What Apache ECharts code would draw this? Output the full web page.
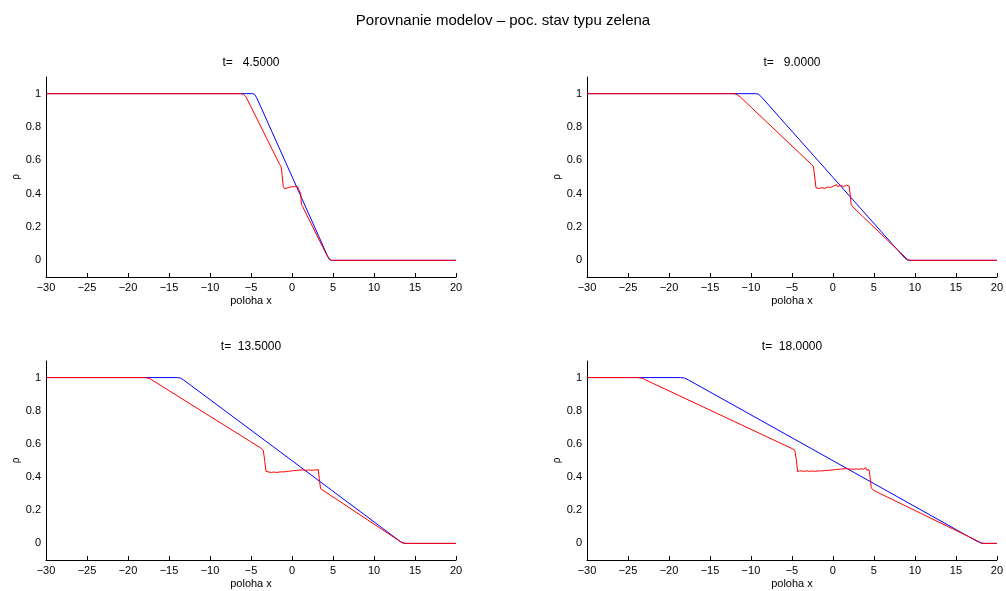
<!DOCTYPE html>
<html>
<head>
<meta charset="utf-8">
<script src="https://cdn.jsdelivr.net/npm/echarts@6/dist/echarts.min.js"></script>
<style>
  html, body { margin: 0; padding: 0; background: #fff; }
  #chart { width: 1006px; height: 591px; }
</style>
</head>
<body>
<div id="chart"></div>
<script>
// ---- text ----
const mainTitle = 'Porovnanie modelov – poc. stav typu zelena';
const panelTitles = ['t=   4.5000', 't=   9.0000', 't=  13.5000', 't=  18.0000'];
const xAxisName = 'poloha x';
const yAxisName = 'ρ';
const xTicks = [-30, -25, -20, -15, -10, -5, 0, 5, 10, 15, 20];
const yTicks = [0, 0.2, 0.4, 0.6, 0.8, 1];

// ---- density profiles, [x, rho] ----
// t = 4.5
const blue45 = [[-30, 1], [-4.8, 1], [-4.55, 0.995], [-4.3, 0.975], [0, 0.503], [4.3, 0.03], [4.55, 0.008], [4.8, 0], [20, 0]];
const red45 = [[-30, 1], [-6.2, 1], [-5.9, 0.995], [-5.6, 0.98], [-1.5, 0.575], [-1.33, 0.562], [-1.2, 0.51], [-1.07, 0.444],
  [-1.0, 0.437], [-0.92, 0.43], [-0.84, 0.438], [-0.76, 0.432], [-0.68, 0.44], [-0.6, 0.434], [-0.52, 0.441],
  [-0.44, 0.436], [-0.36, 0.446], [-0.28, 0.439], [-0.2, 0.447], [-0.12, 0.441], [-0.04, 0.448], [0.04, 0.442],
  [0.12, 0.449], [0.2, 0.443], [0.28, 0.448], [0.36, 0.442], [0.44, 0.449], [0.52, 0.443], [0.6, 0.448],
  [0.68, 0.442], [0.76, 0.449], [0.84, 0.443], [0.92, 0.448], [0.98, 0.445],
  [1.06, 0.4], [1.15, 0.335], [1.3, 0.322], [4.3, 0.025], [4.55, 0.005], [4.8, 0], [20, 0]];

// t = 9
const blue90 = [[-30, 1], [-9.4, 1], [-9.1, 0.997], [-8.8, 0.985], [0, 0.498], [8.8, 0.012], [9.1, 0.002], [9.4, 0], [20, 0]];
const red90 = [[-30, 1], [-12.1, 1], [-11.7, 0.995], [-11.3, 0.98], [-2.6, 0.575], [-2.38, 0.562], [-2.22, 0.5], [-2.07, 0.436],
  [-1.95, 0.429], [-1.83, 0.438], [-1.71, 0.431], [-1.59, 0.437], [-1.47, 0.429], [-1.35, 0.436], [-1.23, 0.431],
  [-1.11, 0.438], [-0.99, 0.432], [-0.87, 0.439], [-0.75, 0.433], [-0.63, 0.44], [-0.51, 0.435], [-0.39, 0.442],
  [-0.27, 0.437], [-0.15, 0.444], [-0.03, 0.439], [0.09, 0.446], [0.21, 0.441], [0.33, 0.448], [0.45, 0.455],
  [0.57, 0.442], [0.69, 0.449], [0.81, 0.442], [0.93, 0.45], [1.05, 0.443], [1.17, 0.449], [1.29, 0.442],
  [1.41, 0.45], [1.53, 0.444], [1.65, 0.451], [1.77, 0.443], [1.89, 0.45], [1.97, 0.446],
  [2.1, 0.4], [2.22, 0.335], [2.4, 0.322], [8.8, 0.02], [9.1, 0.005], [9.4, 0], [20, 0]];

// t = 13.5
const blue135 = [[-30, 1], [-14.0, 1], [-13.6, 0.997], [-13.2, 0.985], [0, 0.499], [13.2, 0.012], [13.6, 0.002], [14.0, 0], [20, 0]];
const red135 = [[-30, 1], [-17.9, 1], [-17.4, 0.995], [-16.9, 0.98], [-3.8, 0.575], [-3.5, 0.561], [-3.33, 0.5], [-3.18, 0.435],
  [-3.1, 0.428], [-2.95, 0.438], [-2.8, 0.43], [-2.65, 0.436], [-2.5, 0.428], [-2.35, 0.437], [-2.2, 0.431],
  [-2.05, 0.435], [-1.9, 0.427], [-1.75, 0.436], [-1.6, 0.43], [-1.45, 0.438], [-1.3, 0.432], [-1.15, 0.437],
  [-1.0, 0.431], [-0.85, 0.439], [-0.7, 0.434], [-0.55, 0.441], [-0.4, 0.435], [-0.25, 0.442], [-0.1, 0.437],
  [0.05, 0.444], [0.2, 0.439], [0.35, 0.446], [0.5, 0.44], [0.65, 0.448], [0.8, 0.442], [0.95, 0.449],
  [1.1, 0.443], [1.25, 0.45], [1.4, 0.442], [1.55, 0.448], [1.7, 0.441], [1.85, 0.45], [2.0, 0.443],
  [2.15, 0.449], [2.3, 0.441], [2.45, 0.447], [2.6, 0.442], [2.75, 0.451], [2.9, 0.443], [3.05, 0.449], [3.2, 0.445],
  [3.33, 0.39], [3.48, 0.33], [3.7, 0.318], [13.0, 0.018], [13.4, 0.004], [13.8, 0], [20, 0]];

// t = 18
const blue180 = [[-30, 1], [-18.6, 1], [-18.1, 0.997], [-17.6, 0.985], [0, 0.499], [17.6, 0.012], [18.1, 0.002], [18.6, 0], [20, 0]];
const red180 = [[-30, 1], [-23.8, 1], [-23.2, 0.995], [-22.6, 0.98], [-5.0, 0.572], [-4.65, 0.561], [-4.45, 0.5], [-4.3, 0.432],
  [-4.2, 0.426], [-4.05, 0.438], [-3.9, 0.429], [-3.75, 0.436], [-3.6, 0.427], [-3.45, 0.435], [-3.3, 0.43],
  [-3.15, 0.438], [-3.0, 0.428], [-2.85, 0.434], [-2.7, 0.427], [-2.55, 0.437], [-2.4, 0.431], [-2.25, 0.435],
  [-2.1, 0.428], [-1.95, 0.436], [-1.8, 0.43], [-1.65, 0.438], [-1.5, 0.431], [-1.35, 0.437], [-1.2, 0.432],
  [-1.05, 0.439], [-0.9, 0.433], [-0.75, 0.44], [-0.6, 0.434], [-0.45, 0.441], [-0.3, 0.436], [-0.15, 0.443],
  [0.0, 0.437], [0.15, 0.444], [0.3, 0.439], [0.45, 0.446], [0.6, 0.44], [0.75, 0.447], [0.9, 0.441],
  [1.05, 0.449], [1.2, 0.443], [1.35, 0.45], [1.5, 0.442], [1.65, 0.451], [1.8, 0.444], [1.95, 0.449],
  [2.1, 0.441], [2.25, 0.448], [2.4, 0.44], [2.55, 0.447], [2.7, 0.441], [2.85, 0.449], [3.0, 0.44],
  [3.15, 0.447], [3.3, 0.442], [3.45, 0.45], [3.6, 0.441], [3.75, 0.448], [3.9, 0.443], [4.0, 0.458],
  [4.1, 0.442], [4.25, 0.449], [4.4, 0.444],
  [4.53, 0.4], [4.68, 0.335], [4.95, 0.32], [17.6, 0.016], [18.0, 0.004], [18.4, 0], [20, 0]];

const blueSets = [blue45, blue90, blue135, blue180];
const redSets = [red45, red90, red135, red180];

// ---- layout: one grid per panel (2 x 2) ----
const FONT = '"Liberation Sans", Arial, Helvetica, sans-serif';
const grids = [
  { left: 46, top: 77, width: 410, height: 200 },
  { left: 587, top: 77, width: 410, height: 200 },
  { left: 46, top: 361, width: 410, height: 199 },
  { left: 587, top: 361, width: 410, height: 199 }
];

const fmtNum = v => String(v).replace('-', '\u2212');

const titles = [{
  text: mainTitle, left: 503, top: 13, textAlign: 'center', padding: 0,
  textStyle: { fontFamily: FONT, fontSize: 15, fontWeight: 'normal', color: '#000' }
}];
grids.forEach((g, i) => {
  titles.push({
    text: panelTitles[i], left: g.left + g.width / 2, top: g.top - 20, textAlign: 'center', padding: 0,
    textStyle: { fontFamily: FONT, fontSize: 12, fontWeight: 'normal', color: '#000' }
  });
});

const xAxes = grids.map((g, i) => ({
  type: 'value', gridIndex: i, min: xTicks[0], max: xTicks[xTicks.length - 1], interval: 5,
  name: xAxisName, nameLocation: 'middle', nameGap: 18,
  nameTextStyle: { fontFamily: FONT, fontSize: 11, color: '#000' },
  axisLine: { show: true, onZero: false, lineStyle: { color: '#000', width: 1 } },
  axisTick: { show: true, inside: true, length: 4, lineStyle: { color: '#000' } },
  axisLabel: { show: true, margin: 5, fontFamily: FONT, fontSize: 11, color: '#000', formatter: fmtNum,
               showMinLabel: true, showMaxLabel: true },
  splitLine: { show: false }
}));

const yAxes = grids.map((g, i) => ({
  type: 'value', gridIndex: i, min: -0.1, max: 1.1,
  name: yAxisName, nameLocation: 'middle', nameGap: 25, nameRotate: 90,
  nameTextStyle: { fontFamily: FONT, fontSize: 10, color: '#000' },
  axisLine: { show: true, onZero: false, lineStyle: { color: '#000', width: 1 } },
  axisTick: { show: false },
  axisLabel: { show: true, margin: 5, fontFamily: FONT, fontSize: 11, color: '#000',
               customValues: yTicks, formatter: fmtNum },
  splitLine: { show: false }
}));

const series = [];
grids.forEach((g, i) => {
  series.push({
    type: 'line', xAxisIndex: i, yAxisIndex: i, data: blueSets[i], showSymbol: false,
    lineStyle: { color: '#0000ff', width: 1 }, itemStyle: { color: '#0000ff' }, z: 2
  });
  series.push({
    type: 'line', xAxisIndex: i, yAxisIndex: i, data: redSets[i], showSymbol: false,
    lineStyle: { color: '#ff0000', width: 1 }, itemStyle: { color: '#ff0000' }, z: 3
  });
});

const chart = echarts.init(document.getElementById('chart'), null, { renderer: 'canvas' });
chart.setOption({
  animation: false,
  backgroundColor: '#fff',
  title: titles,
  grid: grids,
  xAxis: xAxes,
  yAxis: yAxes,
  series: series
});
</script>
</body>
</html>
